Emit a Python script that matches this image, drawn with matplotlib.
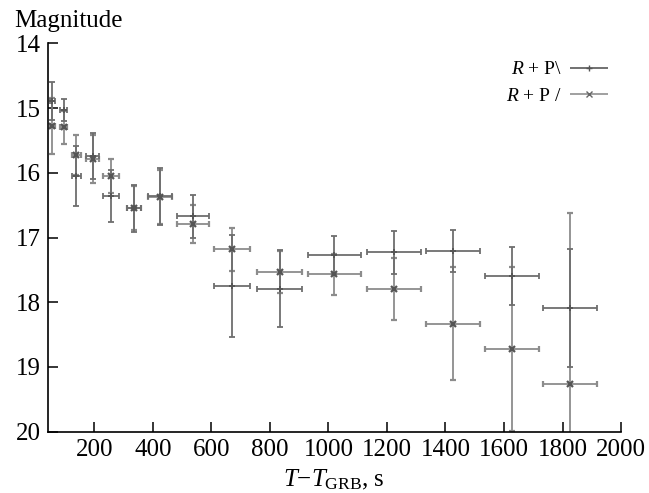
import matplotlib
matplotlib.use('Agg')
import matplotlib.pyplot as plt
from matplotlib.legend_handler import HandlerErrorbar

plt.rcParams['font.family'] = ['Liberation Serif', 'DejaVu Serif']
plt.rcParams['mathtext.fontset'] = 'custom'
plt.rcParams['mathtext.rm'] = 'Liberation Serif'
plt.rcParams['mathtext.it'] = 'Liberation Serif:italic'

# Time since GRB (s) and its half-width
t = [56, 95, 139, 194, 257, 334, 425, 538, 671, 833, 1020, 1225, 1426, 1628, 1827]
t_err = [8, 12, 16, 23, 26, 24, 41, 55, 62, 76, 90, 92, 92, 92, 92]

# R + P\ magnitudes
mag_back = [14.89, 15.03, 16.05, 15.74, 16.36, 16.55, 16.36, 16.67, 17.75, 17.79, 17.27, 17.23, 17.21, 17.60, 18.09]
err_back = [0.29, 0.17, 0.47, 0.36, 0.40, 0.36, 0.44, 0.33, 0.79, 0.59, 0.30, 0.33, 0.32, 0.45, 0.91]

# R + P/ magnitudes
mag_fwd = [15.28, 15.30, 15.73, 15.78, 16.05, 16.54, 16.37, 16.79, 17.18, 17.53, 17.57, 17.79, 18.33, 18.72, 19.27]
err_fwd = [0.43, 0.26, 0.31, 0.37, 0.26, 0.34, 0.42, 0.29, 0.33, 0.32, 0.32, 0.48, 0.87, 1.27, 2.65]

fig = plt.figure(figsize=(6.49, 4.93), dpi=100)
ax = fig.add_axes([0.0732, 0.1243, 0.8837, 0.7878])

ax.errorbar(t, mag_fwd, xerr=t_err, yerr=err_fwd, fmt='x', color='#7a7a7a',
            ecolor='#8c8c8c', elinewidth=1.3, capsize=2.5, capthick=1.3,
            markersize=4, markeredgewidth=1.6, markeredgecolor='#555555')
ax.errorbar(t, mag_back, xerr=t_err, yerr=err_back, fmt='+', color='#555555',
            ecolor='#6e6e6e', elinewidth=1.3, capsize=2.5, capthick=1.3,
            markersize=4, markeredgewidth=1.3)

# legend proxies with horizontal bars only
h_back = ax.errorbar([], [], xerr=[], fmt='+', color='#555555', ecolor='#666666',
                     elinewidth=1.3, capsize=2.5, capthick=1.3, markersize=4)
h_fwd = ax.errorbar([], [], xerr=[], fmt='x', color='#666666', ecolor='#999999',
                    elinewidth=1.3, capsize=2.5, capthick=1.3, markersize=4)
ax.legend([h_back, h_fwd], ['$R$ + P\\', '$R$ + P /'], loc='upper right',
          bbox_to_anchor=(0.991, 0.975), borderaxespad=0, frameon=False,
          markerfirst=False, fontsize=14, handlelength=2.0, labelspacing=0.45,
          handletextpad=0.35,
          handler_map={type(h_back): HandlerErrorbar(xerr_size=0.98)})

ax.set_xlim(40, 2000)
ax.set_ylim(20, 14)
ax.set_xticks(range(200, 2001, 200))
ax.set_yticks(range(14, 21))

ax.spines['top'].set_visible(False)
ax.spines['right'].set_visible(False)
ax.spines['left'].set_linewidth(1.2)
ax.spines['bottom'].set_linewidth(1.2)
ax.tick_params(direction='in', length=7, width=1.1, labelsize=18, pad=5)

ax.set_xlabel(r'$T{-}T_{\mathrm{GRB}}$, s', fontsize=18, labelpad=5)
ax.text(-0.058, 1.042, 'Magnitude', transform=ax.transAxes, fontsize=18,
        va='baseline', ha='left')

fig.savefig('out.png', dpi=100)
